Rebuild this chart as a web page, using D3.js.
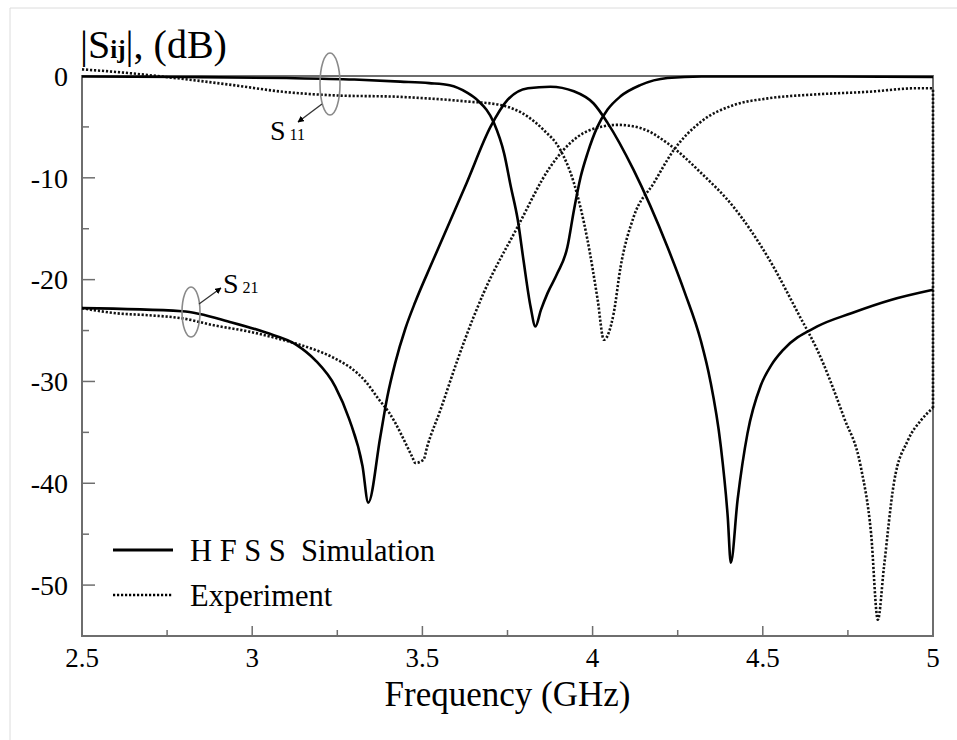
<!DOCTYPE html>
<html>
<head>
<meta charset="utf-8">
<script src="https://cdn.jsdelivr.net/npm/d3@7"></script>
<style>
  body { margin: 0; background: #fff; }
  svg text { font-family: "Liberation Serif", "DejaVu Serif", "Times New Roman", Times, serif; white-space: pre; }
</style>
</head>
<body>
<div id="chart"></div>
<script>
// S11 - HFSS simulation
const s11SimFreq = [2.5, 2.8, 3.1, 3.3, 3.435, 3.52, 3.58, 3.63, 3.661, 3.71, 3.74, 3.76, 3.78, 3.797, 3.818, 3.832, 3.848, 3.868, 3.896, 3.926, 3.945, 3.965, 3.985, 4.014, 4.044, 4.082, 4.14, 4.22, 4.32, 4.6, 5.0];
const s11SimDb   = [-0.05, -0.1, -0.2, -0.35, -0.55, -0.7, -0.9, -1.6, -2.35, -4.6, -7.6, -10.9, -14.1, -18.1, -22.7, -24.6, -23.0, -21.3, -19.4, -16.8, -13.2, -9.9, -7.6, -5.0, -3.3, -2.0, -0.9, -0.2, -0.05, -0.05, -0.1];

// S21 - HFSS simulation
const s21SimFreq = [2.5, 2.794, 2.94, 3.04, 3.13, 3.185, 3.244, 3.285, 3.324, 3.341, 3.376, 3.397, 3.42, 3.45, 3.479, 3.53, 3.63, 3.70, 3.75, 3.81, 3.876, 3.945, 4.003, 4.044, 4.12, 4.22, 4.27, 4.318, 4.345, 4.376, 4.397, 4.406, 4.426, 4.455, 4.494, 4.525, 4.56, 4.66, 4.76, 4.876, 5.0];
const s21SimDb   = [-22.8, -23.1, -24.2, -25.2, -26.4, -27.9, -30.5, -33.7, -38.3, -41.9, -35.5, -31.5, -28.2, -24.8, -22.2, -18.2, -10.5, -5.0, -2.35, -1.2, -1.05, -1.5, -2.7, -4.6, -9.2, -16.8, -21.2, -26.0, -29.8, -36.2, -43.3, -47.8, -41.6, -35.1, -30.4, -28.4, -26.9, -24.6, -23.3, -22.0, -21.0];

// S11 - experiment
const s11ExpFreq = [2.5, 2.6, 2.8, 2.945, 3.09, 3.24, 3.435, 3.63, 3.73, 3.81, 3.856, 3.906, 3.945, 3.985, 4.015, 4.033, 4.062, 4.082, 4.12, 4.18, 4.238, 4.318, 4.415, 4.515, 4.66, 4.81, 4.956, 5.0];
const s11ExpDb   = [0.65, 0.4, -0.3, -0.9, -1.55, -1.9, -2.05, -2.5, -2.85, -4.0, -5.3, -7.3, -10.5, -16.1, -22.0, -25.9, -23.3, -18.8, -13.9, -10.5, -7.3, -4.5, -2.85, -2.2, -1.8, -1.55, -1.2, -1.2];

// S21 - experiment
const s21ExpFreq = [2.5, 2.6, 2.697, 2.794, 2.89, 2.99, 3.088, 3.185, 3.235, 3.333, 3.373, 3.403, 3.47, 3.479, 3.503, 3.514, 3.553, 3.603, 3.65, 3.68, 3.78, 3.876, 3.955, 4.023, 4.074, 4.14, 4.22, 4.318, 4.415, 4.515, 4.61, 4.66, 4.738, 4.788, 4.818, 4.838, 4.856, 4.885, 4.926, 4.965, 5.0];
const s21ExpDb   = [-22.8, -23.3, -23.5, -23.8, -24.5, -25.1, -25.9, -26.9, -27.6, -30.0, -31.8, -33.1, -37.4, -38.0, -37.7, -36.4, -32.8, -27.9, -23.7, -21.3, -14.8, -8.9, -6.0, -5.0, -4.8, -5.1, -6.6, -9.5, -12.9, -17.8, -23.7, -26.9, -33.5, -38.4, -44.9, -53.4, -48.2, -40.0, -35.8, -33.8, -32.6];

// measured trace jumps back up at the band edge
const expEdgeFreq = [5.0, 5.0];
const expEdgeDb   = [-32.6, -1.2];

const xTicks = [2.5, 3, 3.5, 4, 4.5, 5];
const yTicks = [0, -10, -20, -30, -40, -50];
const legendLabels = ["H F S S  Simulation", "Experiment"];

const W = 957, H = 740;
const plotL = 82, plotR = 933, plotT = 76, plotB = 636;
const axisColor = "#6e6e6e";
const serif = "'Liberation Serif', 'DejaVu Serif', 'Times New Roman', Times, serif";

const svg = d3.select("#chart").append("svg")
    .attr("width", W)
    .attr("height", H)
    .attr("font-family", serif);

svg.append("rect").attr("width", W).attr("height", H).attr("fill", "#fff");
// faint border of the figure
svg.append("path").attr("d", `M10,${H} L10,8 L${W},8`)
    .attr("fill", "none").attr("stroke", "#dcdcdc").attr("stroke-width", 1);

const x = d3.scaleLinear().domain([2.5, 5]).range([plotL, plotR]);
const y = d3.scaleLinear().domain([-55, 0]).range([plotB, plotT]);

// frame
svg.append("rect")
    .attr("x", plotL).attr("y", plotT)
    .attr("width", plotR - plotL).attr("height", plotB - plotT)
    .attr("fill", "none").attr("stroke", axisColor).attr("stroke-width", 2);

// y ticks (inward)
const yMinor = d3.range(-55, 0.1, 5).filter(v => v % 10 !== 0);
svg.selectAll("line.ymaj").data(yTicks.filter(v => v !== 0)).enter().append("line")
    .attr("x1", plotL).attr("x2", plotL + 13)
    .attr("y1", d => y(d)).attr("y2", d => y(d))
    .attr("stroke", axisColor).attr("stroke-width", 1.5);
svg.selectAll("line.ymin").data(yMinor).enter().append("line")
    .attr("x1", plotL).attr("x2", plotL + 7)
    .attr("y1", d => y(d)).attr("y2", d => y(d))
    .attr("stroke", axisColor).attr("stroke-width", 1.5);
svg.selectAll("text.ylab").data(yTicks).enter().append("text")
    .attr("x", plotL - 14).attr("y", d => y(d))
    .attr("dy", "0.35em")
    .attr("text-anchor", "end")
    .attr("font-size", 28)
    .text(d => d === 0 ? "0" : "-" + Math.abs(d));

// x ticks (inward)
const xMinor = [2.75, 3.25, 3.75, 4.25, 4.75];
svg.selectAll("line.xmaj").data(xTicks.slice(1, -1)).enter().append("line")
    .attr("x1", d => x(d)).attr("x2", d => x(d))
    .attr("y1", plotB).attr("y2", plotB - 10)
    .attr("stroke", axisColor).attr("stroke-width", 1.5);
svg.selectAll("line.xmin").data(xMinor).enter().append("line")
    .attr("x1", d => x(d)).attr("x2", d => x(d))
    .attr("y1", plotB).attr("y2", plotB - 6)
    .attr("stroke", axisColor).attr("stroke-width", 1.5);
svg.selectAll("text.xlab").data(xTicks).enter().append("text")
    .attr("x", d => x(d)).attr("y", 667)
    .attr("text-anchor", "middle")
    .attr("font-size", 27)
    .text(d => d);

svg.append("text")
    .attr("x", (plotL + plotR) / 2).attr("y", 706)
    .attr("text-anchor", "middle")
    .attr("font-size", 35)
    .text("Frequency (GHz)");

// y title |Sij|, (dB)
const title = svg.append("text").attr("x", 80).attr("y", 58).attr("font-size", 40);
title.append("tspan").text("|S");
title.append("tspan").attr("font-size", 25).attr("font-weight", "bold").text("ij");
title.append("tspan").text("|, (dB)");

// curves
const line = d3.line()
    .x(d => x(d[0]))
    .y(d => y(d[1]))
    .curve(d3.curveMonotoneX);
const zipPts = (f, v) => f.map((d, i) => [d, v[i]]);

const g = svg.append("g");
g.append("path").datum(zipPts(expEdgeFreq, expEdgeDb))
    .attr("d", d3.line().x(d => x(d[0])).y(d => y(d[1])))
    .attr("fill", "none").attr("stroke", "#111").attr("stroke-width", 2.6)
    .attr("stroke-dasharray", "2.2,1.8");

[[s11ExpFreq, s11ExpDb], [s21ExpFreq, s21ExpDb]].forEach(([f, v]) => {
  g.append("path").datum(zipPts(f, v))
      .attr("d", line)
      .attr("fill", "none").attr("stroke", "#111").attr("stroke-width", 2.6)
      .attr("stroke-dasharray", "2.2,1.8");
});
[[s11SimFreq, s11SimDb], [s21SimFreq, s21SimDb]].forEach(([f, v]) => {
  g.append("path").datum(zipPts(f, v))
      .attr("d", line)
      .attr("fill", "none").attr("stroke", "#000").attr("stroke-width", 2.6)
      .attr("stroke-linejoin", "round");
});

// annotations
const defs = svg.append("defs");
defs.append("marker").attr("id", "arr")
    .attr("viewBox", "0 0 10 10").attr("refX", 9).attr("refY", 5)
    .attr("markerWidth", 5).attr("markerHeight", 5).attr("orient", "auto")
    .append("path").attr("d", "M0,0 L10,5 L0,10 Z").attr("fill", "#000");

function note(cx, cy, rx, ry, ax1, ay1, ax2, ay2, tx, ty, sub) {
  svg.append("ellipse").attr("cx", cx).attr("cy", cy).attr("rx", rx).attr("ry", ry)
      .attr("fill", "none").attr("stroke", "#8a8a8a").attr("stroke-width", 1.6);
  svg.append("line").attr("x1", ax1).attr("y1", ay1).attr("x2", ax2).attr("y2", ay2)
      .attr("stroke", "#333").attr("stroke-width", 1.3).attr("marker-end", "url(#arr)");
  const t = svg.append("text").attr("x", tx).attr("y", ty).attr("font-size", 28);
  t.append("tspan").text("S");
  t.append("tspan").attr("dx", 4).attr("font-size", 16).text(sub);
}
note(330, 84, 10, 31, 322, 104, 298, 122, 270, 140, "11");
note(191, 312, 9, 25, 199, 304, 221, 288, 223, 293, "21");

// legend
const legendY = [550, 595];
svg.selectAll("line.leg").data(legendLabels).enter().append("line")
    .attr("x1", 113).attr("x2", 173)
    .attr("y1", (d, i) => legendY[i]).attr("y2", (d, i) => legendY[i])
    .attr("stroke", "#000").attr("stroke-width", (d, i) => i === 0 ? 3 : 2.6)
    .attr("stroke-dasharray", (d, i) => i === 0 ? null : "2.2,1.8");
svg.selectAll("text.leg").data(legendLabels).enter().append("text")
    .attr("x", 190).attr("y", (d, i) => legendY[i] + 11)
    .attr("font-size", 30.5)
    .text(d => d);
</script>
</body>
</html>
